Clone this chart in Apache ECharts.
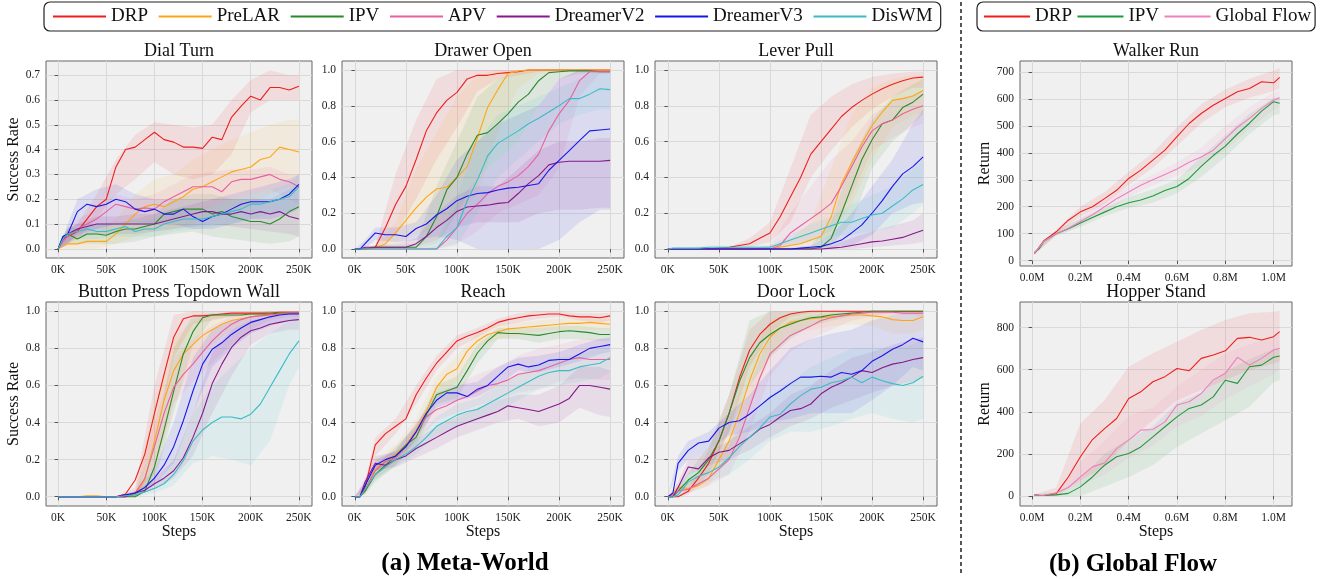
<!DOCTYPE html>
<html>
<head>
<meta charset="utf-8">
<title>DRP learning curves</title>
<script src="https://cdn.jsdelivr.net/npm/echarts@6/dist/echarts.min.js"></script>
<style>
  html, body { margin: 0; padding: 0; background: #fff; }
  #chart { width: 1326px; height: 579px; }
</style>
</head>
<body>
<div id="chart"></div>
<script>
// methods, in plotting order
const METHODS = ['DRP', 'PreLAR', 'IPV', 'APV', 'DreamerV2', 'DreamerV3', 'DisWM'];
const GF_METHODS = ['DRP', 'IPV', 'Global Flow'];

// x positions (thousands of steps for Meta-World, millions for Global Flow)
const STEPS_K = [0, 5, 10, 20, 30, 40, 50, 60, 70, 80, 90, 100, 110, 120, 130, 140, 150, 160, 170, 180, 190, 200, 210, 220, 230, 240, 250];
const BAND_STEPS_K = [0, 10, 20, 40, 60, 80, 100, 120, 140, 160, 180, 200, 220, 240, 250];
const GF_STEPS_M = [0.01, 0.03, 0.05, 0.1, 0.15, 0.2, 0.25, 0.3, 0.35, 0.4, 0.45, 0.5, 0.55, 0.6, 0.65, 0.7, 0.75, 0.8, 0.85, 0.9, 0.95, 1.0, 1.025];
const GF_BAND_STEPS_M = [0.01, 0.1, 0.2, 0.3, 0.4, 0.5, 0.6, 0.7, 0.8, 0.9, 1.0, 1.025];

// tick labels
const K_TICKS = [0, 50, 100, 150, 200, 250];
const M_TICKS = [0, 0.2, 0.4, 0.6, 0.8, 1.0];
const RATE_TICKS = [0, 0.2, 0.4, 0.6, 0.8, 1.0];
const DIAL_TICKS = [0, 0.1, 0.2, 0.3, 0.4, 0.5, 0.6, 0.7];
const WALKER_TICKS = [0, 100, 200, 300, 400, 500, 600, 700];
const HOPPER_TICKS = [0, 200, 400, 600, 800];

// ---- Dial Turn (rows follow METHODS) ----
const dialTurnMean = [
  [0, 0.04, 0.05, 0.07, 0.12, 0.17, 0.2, 0.33, 0.4, 0.41, 0.44, 0.47, 0.44, 0.43, 0.41, 0.41, 0.405, 0.45, 0.44, 0.53, 0.575, 0.615, 0.6, 0.65, 0.65, 0.64, 0.655],
  [0, 0.01, 0.02, 0.02, 0.03, 0.03, 0.03, 0.06, 0.1, 0.14, 0.17, 0.18, 0.17, 0.19, 0.21, 0.24, 0.25, 0.27, 0.29, 0.31, 0.32, 0.33, 0.36, 0.37, 0.41, 0.4, 0.39],
  [0, 0.05, 0.06, 0.04, 0.06, 0.06, 0.055, 0.07, 0.08, 0.08, 0.09, 0.1, 0.14, 0.15, 0.16, 0.16, 0.16, 0.14, 0.15, 0.13, 0.12, 0.11, 0.11, 0.1, 0.12, 0.15, 0.17],
  [0, 0.03, 0.05, 0.08, 0.1, 0.12, 0.15, 0.18, 0.17, 0.16, 0.165, 0.16, 0.19, 0.21, 0.23, 0.25, 0.25, 0.25, 0.23, 0.27, 0.28, 0.28, 0.29, 0.3, 0.28, 0.27, 0.25],
  [0, 0.04, 0.06, 0.08, 0.09, 0.1, 0.1, 0.1, 0.1, 0.1, 0.1, 0.1, 0.11, 0.12, 0.13, 0.14, 0.15, 0.15, 0.14, 0.14, 0.15, 0.14, 0.15, 0.14, 0.15, 0.13, 0.12],
  [0, 0.05, 0.06, 0.15, 0.18, 0.17, 0.18, 0.2, 0.19, 0.16, 0.15, 0.16, 0.14, 0.14, 0.16, 0.13, 0.11, 0.13, 0.14, 0.16, 0.18, 0.19, 0.19, 0.19, 0.2, 0.22, 0.26],
  [0, 0.04, 0.06, 0.07, 0.08, 0.07, 0.07, 0.08, 0.09, 0.07, 0.08, 0.08, 0.1, 0.11, 0.12, 0.12, 0.12, 0.13, 0.14, 0.15, 0.16, 0.18, 0.18, 0.19, 0.2, 0.21, 0.25]
];
const dialTurnLow = [
  [0, 0.02, 0.04, 0.12, 0.22, 0.28, 0.35, 0.3, 0.28, 0.3, 0.38, 0.55, 0.6, 0.6, 0.6],
  [0, 0, 0, 0, 0.02, 0.05, 0.07, 0.08, 0.1, 0.12, 0.15, 0.18, 0.22, 0.25, 0.25],
  [0, 0.02, 0.02, 0.02, 0.02, 0.03, 0.05, 0.06, 0.07, 0.05, 0.04, 0.03, 0.02, 0.03, 0.05],
  [0, 0.02, 0.05, 0.08, 0.1, 0.11, 0.1, 0.12, 0.15, 0.17, 0.2, 0.22, 0.24, 0.2, 0.18],
  [0, 0.03, 0.05, 0.06, 0.06, 0.06, 0.07, 0.08, 0.09, 0.1, 0.09, 0.08, 0.07, 0.06, 0.05],
  [0, 0.02, 0.06, 0.08, 0.1, 0.1, 0.1, 0.1, 0.08, 0.08, 0.1, 0.12, 0.12, 0.14, 0.16],
  [0, 0.03, 0.04, 0.04, 0.05, 0.05, 0.05, 0.07, 0.08, 0.09, 0.1, 0.12, 0.14, 0.15, 0.18]
];
const dialTurnHigh = [
  [0, 0.08, 0.1, 0.22, 0.36, 0.46, 0.51, 0.5, 0.49, 0.5, 0.6, 0.68, 0.72, 0.7, 0.7],
  [0, 0.04, 0.05, 0.07, 0.12, 0.22, 0.28, 0.3, 0.36, 0.4, 0.44, 0.47, 0.5, 0.52, 0.52],
  [0, 0.09, 0.08, 0.1, 0.1, 0.12, 0.14, 0.2, 0.22, 0.22, 0.2, 0.2, 0.2, 0.24, 0.26],
  [0, 0.08, 0.12, 0.16, 0.22, 0.2, 0.22, 0.26, 0.3, 0.31, 0.32, 0.32, 0.33, 0.3, 0.3],
  [0, 0.08, 0.1, 0.13, 0.13, 0.14, 0.14, 0.16, 0.18, 0.2, 0.2, 0.2, 0.2, 0.2, 0.2],
  [0, 0.1, 0.2, 0.24, 0.26, 0.22, 0.2, 0.2, 0.2, 0.2, 0.22, 0.24, 0.26, 0.28, 0.3],
  [0, 0.08, 0.1, 0.1, 0.11, 0.11, 0.12, 0.14, 0.16, 0.17, 0.2, 0.22, 0.24, 0.26, 0.3]
];

// ---- Drawer Open ----
const drawerOpenMean = [
  [0, 0, 0, 0.01, 0.12, 0.25, 0.35, 0.5, 0.66, 0.76, 0.83, 0.875, 0.95, 0.97, 0.97, 0.98, 0.985, 0.99, 1, 1, 1, 1, 1, 1, 1, 1, 1],
  [0, 0, 0, 0.005, 0.03, 0.09, 0.16, 0.23, 0.29, 0.335, 0.345, 0.4, 0.46, 0.62, 0.79, 0.89, 0.98, 0.995, 1, 1, 1, 1, 1, 1, 1, 1, 1],
  [0, 0, 0, 0.01, 0.01, 0.01, 0.01, 0.01, 0.07, 0.18, 0.33, 0.4, 0.53, 0.635, 0.65, 0.7, 0.755, 0.82, 0.865, 0.94, 0.985, 0.99, 0.995, 0.995, 0.995, 0.99, 0.99],
  [0, 0, 0, 0, 0, 0, 0, 0, 0, 0, 0.05, 0.12, 0.2, 0.25, 0.31, 0.35, 0.375, 0.41, 0.46, 0.53, 0.66, 0.755, 0.83, 0.94, 0.99, 0.99, 0.99],
  [0, 0, 0.01, 0.01, 0.01, 0.01, 0.01, 0.03, 0.07, 0.12, 0.16, 0.21, 0.235, 0.24, 0.245, 0.255, 0.26, 0.31, 0.365, 0.41, 0.47, 0.485, 0.49, 0.49, 0.49, 0.49, 0.495],
  [0, 0, 0.03, 0.09, 0.08, 0.08, 0.07, 0.115, 0.14, 0.19, 0.225, 0.27, 0.295, 0.31, 0.315, 0.33, 0.34, 0.345, 0.355, 0.365, 0.44, 0.495, 0.55, 0.605, 0.66, 0.665, 0.67],
  [0, 0, 0, 0, 0, 0, 0, 0, 0, 0, 0.07, 0.12, 0.27, 0.385, 0.52, 0.59, 0.625, 0.66, 0.7, 0.73, 0.765, 0.8, 0.84, 0.84, 0.865, 0.895, 0.89]
];
const drawerOpenLow = [
  [0, 0, 0, 0.08, 0.28, 0.5, 0.68, 0.88, 0.95, 0.97, 0.99, 1, 1, 1, 1],
  [0, 0, 0, 0.03, 0.08, 0.12, 0.2, 0.3, 0.65, 0.9, 0.98, 1, 1, 1, 1],
  [0, 0, 0, 0, 0, 0.03, 0.2, 0.4, 0.5, 0.6, 0.8, 0.95, 0.98, 0.98, 0.98],
  [0, 0, 0, 0, 0, 0, 0.03, 0.1, 0.2, 0.25, 0.3, 0.45, 0.85, 0.98, 0.98],
  [0, 0, 0, 0, 0.01, 0.05, 0.12, 0.15, 0.15, 0.15, 0.2, 0.22, 0.22, 0.23, 0.23],
  [0, 0, 0.05, 0.04, 0.05, 0.07, 0.05, 0, 0, 0, 0, 0.05, 0.15, 0.22, 0.22],
  [0, 0, 0, 0, 0, 0, 0.02, 0.2, 0.4, 0.5, 0.6, 0.7, 0.75, 0.78, 0.78]
];
const drawerOpenHigh = [
  [0, 0, 0.02, 0.42, 0.72, 0.95, 1, 1, 1, 1, 1, 1, 1, 1, 1],
  [0, 0, 0.02, 0.15, 0.45, 0.65, 0.85, 0.97, 1, 1, 1, 1, 1, 1, 1],
  [0, 0.01, 0.02, 0.02, 0.03, 0.35, 0.6, 0.85, 0.95, 0.99, 1, 1, 1, 1, 1],
  [0, 0, 0, 0, 0, 0.02, 0.25, 0.4, 0.5, 0.6, 0.8, 0.95, 1, 1, 1],
  [0, 0.01, 0.02, 0.03, 0.06, 0.2, 0.3, 0.35, 0.35, 0.45, 0.55, 0.6, 0.6, 0.62, 0.62],
  [0, 0.05, 0.12, 0.12, 0.15, 0.3, 0.5, 0.6, 0.7, 0.75, 0.8, 0.95, 1, 1, 1],
  [0, 0, 0, 0, 0, 0.05, 0.3, 0.6, 0.75, 0.8, 0.85, 0.9, 0.95, 1, 1]
];

// ---- Lever Pull ----
const leverPullMean = [
  [0, 0, 0, 0, 0, 0, 0.005, 0.01, 0.02, 0.03, 0.06, 0.09, 0.18, 0.29, 0.4, 0.53, 0.6, 0.67, 0.74, 0.79, 0.83, 0.865, 0.895, 0.92, 0.94, 0.955, 0.96],
  [0, 0, 0, 0, 0, 0, 0, 0, 0, 0, 0, 0, 0.01, 0.02, 0.03, 0.05, 0.07, 0.18, 0.365, 0.48, 0.59, 0.69, 0.765, 0.83, 0.84, 0.855, 0.885],
  [0, 0, 0, 0, 0, 0, 0, 0, 0, 0, 0, 0, 0, 0, 0, 0, 0.01, 0.06, 0.2, 0.35, 0.5, 0.61, 0.7, 0.72, 0.79, 0.82, 0.865],
  [0, 0, 0, 0, 0, 0, 0, 0, 0, 0, 0, 0, 0.02, 0.09, 0.13, 0.17, 0.21, 0.255, 0.35, 0.46, 0.57, 0.66, 0.7, 0.72, 0.755, 0.78, 0.8],
  [0, 0, 0, 0, 0, 0, 0, 0, 0, 0, 0, 0, 0, 0, 0, 0, 0, 0.005, 0.01, 0.02, 0.03, 0.04, 0.045, 0.055, 0.065, 0.085, 0.105],
  [0, 0, 0, 0, 0, 0, 0, 0, 0, 0, 0, 0, 0, 0, 0.005, 0.01, 0.015, 0.03, 0.05, 0.09, 0.135, 0.2, 0.27, 0.35, 0.42, 0.46, 0.515],
  [0, 0.005, 0.005, 0.005, 0.005, 0.01, 0.01, 0.01, 0.01, 0.01, 0.01, 0.01, 0.03, 0.05, 0.07, 0.09, 0.11, 0.13, 0.15, 0.15, 0.17, 0.19, 0.2, 0.24, 0.28, 0.33, 0.36]
];
const leverPullLow = [
  [0, 0, 0, 0, 0, 0.01, 0.04, 0.15, 0.4, 0.55, 0.68, 0.78, 0.85, 0.9, 0.9],
  [0, 0, 0, 0, 0, 0, 0, 0.01, 0.02, 0.08, 0.25, 0.5, 0.68, 0.75, 0.76],
  [0, 0, 0, 0, 0, 0, 0, 0, 0, 0.02, 0.15, 0.45, 0.6, 0.7, 0.75],
  [0, 0, 0, 0, 0, 0, 0, 0.02, 0.05, 0.1, 0.3, 0.55, 0.62, 0.68, 0.7],
  [0, 0, 0, 0, 0, 0, 0, 0, 0, 0, 0, 0.01, 0.02, 0.03, 0.04],
  [0, 0, 0, 0, 0, 0, 0, 0, 0, 0.01, 0.02, 0.08, 0.2, 0.25, 0.26],
  [0, 0, 0, 0, 0, 0, 0, 0.02, 0.04, 0.07, 0.08, 0.1, 0.12, 0.2, 0.25]
];
const leverPullHigh = [
  [0, 0, 0, 0, 0.01, 0.06, 0.15, 0.45, 0.75, 0.85, 0.92, 0.96, 0.98, 0.99, 0.99],
  [0, 0, 0, 0, 0, 0, 0.02, 0.05, 0.15, 0.45, 0.75, 0.9, 0.95, 0.97, 0.97],
  [0, 0, 0, 0, 0, 0, 0, 0, 0.02, 0.15, 0.5, 0.72, 0.85, 0.92, 0.95],
  [0, 0, 0, 0, 0, 0, 0.02, 0.2, 0.35, 0.5, 0.6, 0.75, 0.82, 0.86, 0.88],
  [0, 0, 0, 0, 0, 0, 0, 0, 0.01, 0.02, 0.06, 0.1, 0.13, 0.16, 0.2],
  [0, 0, 0, 0, 0, 0, 0, 0.01, 0.02, 0.08, 0.2, 0.35, 0.5, 0.7, 0.78],
  [0, 0.01, 0.01, 0.02, 0.02, 0.02, 0.02, 0.08, 0.14, 0.18, 0.25, 0.3, 0.35, 0.45, 0.5]
];

// ---- Button Press Topdown Wall ----
const buttonPressMean = [
  [0, 0, 0, 0, 0, 0, 0, 0, 0.015, 0.09, 0.23, 0.45, 0.66, 0.86, 0.96, 0.975, 0.975, 0.98, 0.985, 0.99, 0.99, 0.99, 0.99, 0.99, 0.995, 0.995, 0.995],
  [0, 0, 0, 0, 0.005, 0.005, 0, 0, 0, 0.01, 0.09, 0.3, 0.52, 0.68, 0.77, 0.82, 0.87, 0.9, 0.93, 0.95, 0.96, 0.97, 0.98, 0.985, 0.99, 0.99, 0.99],
  [0, 0, 0, 0, 0, 0, 0, 0, 0, 0, 0.03, 0.16, 0.36, 0.57, 0.77, 0.89, 0.965, 0.98, 0.98, 0.98, 0.98, 0.985, 0.985, 0.985, 0.99, 0.99, 0.99],
  [0, 0, 0, 0, 0, 0, 0, 0, 0, 0.02, 0.1, 0.27, 0.45, 0.59, 0.66, 0.715, 0.78, 0.84, 0.89, 0.93, 0.955, 0.97, 0.975, 0.98, 0.985, 0.99, 0.99],
  [0, 0, 0, 0, 0, 0, 0, 0, 0, 0.02, 0.035, 0.07, 0.1, 0.14, 0.21, 0.32, 0.45, 0.61, 0.715, 0.805, 0.86, 0.895, 0.91, 0.93, 0.94, 0.95, 0.955],
  [0, 0, 0, 0, 0, 0, 0, 0, 0.01, 0.02, 0.05, 0.1, 0.17, 0.27, 0.41, 0.57, 0.715, 0.795, 0.83, 0.875, 0.91, 0.94, 0.955, 0.97, 0.98, 0.985, 0.985],
  [0, 0, 0, 0, 0, 0, 0, 0, 0.005, 0.01, 0.025, 0.045, 0.07, 0.12, 0.195, 0.3, 0.36, 0.4, 0.43, 0.43, 0.42, 0.445, 0.5, 0.59, 0.68, 0.77, 0.84]
];
const buttonPressLow = [
  [0, 0, 0, 0, 0, 0, 0.3, 0.75, 0.93, 0.95, 0.97, 0.98, 0.98, 0.99, 0.99],
  [0, 0, 0, 0, 0, 0, 0.12, 0.5, 0.72, 0.82, 0.9, 0.94, 0.96, 0.98, 0.98],
  [0, 0, 0, 0, 0, 0, 0.08, 0.45, 0.82, 0.96, 0.97, 0.98, 0.98, 0.98, 0.98],
  [0, 0, 0, 0, 0, 0, 0.15, 0.5, 0.62, 0.72, 0.82, 0.9, 0.95, 0.97, 0.97],
  [0, 0, 0, 0, 0, 0.01, 0.04, 0.1, 0.22, 0.45, 0.65, 0.82, 0.88, 0.9, 0.9],
  [0, 0, 0, 0, 0, 0.01, 0.06, 0.18, 0.45, 0.7, 0.8, 0.88, 0.92, 0.95, 0.96],
  [0, 0, 0, 0, 0, 0, 0.02, 0.06, 0.18, 0.22, 0.2, 0.17, 0.3, 0.6, 0.7]
];
const buttonPressHigh = [
  [0, 0, 0, 0, 0, 0.05, 0.6, 0.98, 1, 1, 1, 1, 1, 1, 1],
  [0, 0, 0, 0, 0, 0.03, 0.5, 0.85, 0.95, 0.98, 0.99, 1, 1, 1, 1],
  [0, 0, 0, 0, 0, 0.02, 0.3, 0.8, 0.98, 0.99, 0.99, 0.99, 1, 1, 1],
  [0, 0, 0, 0, 0, 0.03, 0.4, 0.75, 0.85, 0.92, 0.97, 0.99, 1, 1, 1],
  [0, 0, 0, 0, 0, 0.03, 0.1, 0.2, 0.45, 0.78, 0.9, 0.95, 0.97, 0.98, 0.98],
  [0, 0, 0, 0, 0, 0.03, 0.15, 0.4, 0.75, 0.9, 0.95, 0.97, 0.99, 0.99, 0.99],
  [0, 0, 0, 0, 0, 0.02, 0.06, 0.2, 0.45, 0.6, 0.7, 0.8, 0.88, 0.95, 0.97]
];

// ---- Reach ----
const reachMean = [
  [0, 0, 0.05, 0.28, 0.34, 0.38, 0.42, 0.55, 0.64, 0.72, 0.78, 0.84, 0.865, 0.885, 0.91, 0.94, 0.955, 0.965, 0.975, 0.98, 0.985, 0.985, 0.975, 0.97, 0.97, 0.965, 0.975],
  [0, 0, 0.03, 0.15, 0.19, 0.23, 0.28, 0.36, 0.46, 0.59, 0.66, 0.69, 0.785, 0.84, 0.875, 0.89, 0.905, 0.91, 0.915, 0.92, 0.925, 0.93, 0.935, 0.935, 0.94, 0.935, 0.93],
  [0, 0, 0.03, 0.12, 0.17, 0.22, 0.28, 0.32, 0.44, 0.55, 0.57, 0.59, 0.68, 0.775, 0.84, 0.885, 0.88, 0.88, 0.875, 0.87, 0.88, 0.89, 0.895, 0.89, 0.885, 0.875, 0.875],
  [0, 0, 0.04, 0.14, 0.19, 0.21, 0.27, 0.35, 0.43, 0.47, 0.49, 0.52, 0.54, 0.57, 0.6, 0.61, 0.63, 0.66, 0.67, 0.68, 0.7, 0.72, 0.74, 0.75, 0.74, 0.74, 0.74],
  [0, 0, 0.08, 0.18, 0.17, 0.2, 0.22, 0.26, 0.29, 0.32, 0.35, 0.38, 0.4, 0.42, 0.44, 0.46, 0.49, 0.48, 0.47, 0.46, 0.48, 0.5, 0.53, 0.6, 0.6, 0.59, 0.58],
  [0, 0, 0.06, 0.17, 0.2, 0.22, 0.27, 0.35, 0.45, 0.52, 0.56, 0.56, 0.54, 0.58, 0.6, 0.65, 0.7, 0.715, 0.7, 0.71, 0.735, 0.74, 0.74, 0.77, 0.8, 0.81, 0.82],
  [0, 0, 0.04, 0.12, 0.16, 0.2, 0.23, 0.27, 0.32, 0.38, 0.41, 0.44, 0.46, 0.47, 0.5, 0.53, 0.56, 0.59, 0.62, 0.65, 0.67, 0.68, 0.68, 0.7, 0.71, 0.72, 0.75]
];
const reachLow = [
  [0, 0.03, 0.22, 0.34, 0.5, 0.68, 0.8, 0.86, 0.92, 0.94, 0.96, 0.97, 0.95, 0.94, 0.95],
  [0, 0.01, 0.1, 0.18, 0.3, 0.52, 0.62, 0.8, 0.85, 0.87, 0.89, 0.9, 0.9, 0.9, 0.9],
  [0, 0.01, 0.08, 0.17, 0.27, 0.5, 0.53, 0.72, 0.85, 0.85, 0.83, 0.85, 0.85, 0.84, 0.84],
  [0, 0.02, 0.1, 0.17, 0.3, 0.41, 0.45, 0.49, 0.52, 0.56, 0.58, 0.62, 0.64, 0.63, 0.63],
  [0, 0.05, 0.14, 0.16, 0.21, 0.26, 0.32, 0.36, 0.4, 0.42, 0.38, 0.4, 0.48, 0.44, 0.43],
  [0, 0.04, 0.14, 0.19, 0.31, 0.48, 0.52, 0.54, 0.6, 0.68, 0.67, 0.7, 0.73, 0.77, 0.78],
  [0, 0.02, 0.09, 0.16, 0.23, 0.33, 0.38, 0.41, 0.46, 0.52, 0.58, 0.6, 0.62, 0.64, 0.67]
];
const reachHigh = [
  [0, 0.08, 0.32, 0.42, 0.6, 0.76, 0.87, 0.91, 0.96, 0.99, 1, 1, 0.99, 0.99, 0.99],
  [0, 0.05, 0.2, 0.28, 0.42, 0.65, 0.76, 0.88, 0.93, 0.94, 0.95, 0.96, 0.96, 0.96, 0.96],
  [0, 0.05, 0.17, 0.27, 0.38, 0.6, 0.65, 0.82, 0.91, 0.91, 0.91, 0.92, 0.92, 0.91, 0.91],
  [0, 0.06, 0.18, 0.25, 0.4, 0.53, 0.6, 0.66, 0.7, 0.76, 0.8, 0.82, 0.85, 0.85, 0.85],
  [0, 0.1, 0.22, 0.24, 0.31, 0.38, 0.43, 0.48, 0.52, 0.55, 0.55, 0.6, 0.7, 0.7, 0.68],
  [0, 0.08, 0.2, 0.25, 0.39, 0.56, 0.6, 0.62, 0.7, 0.75, 0.76, 0.78, 0.82, 0.85, 0.86],
  [0, 0.06, 0.15, 0.24, 0.31, 0.43, 0.5, 0.53, 0.6, 0.66, 0.72, 0.75, 0.77, 0.8, 0.82]
];

// ---- Door Lock ----
const doorLockMean = [
  [0, 0, 0, 0.03, 0.1, 0.18, 0.3, 0.45, 0.64, 0.79, 0.875, 0.93, 0.965, 0.985, 0.995, 1, 1, 1, 1, 1, 1, 1, 1, 1, 1, 1, 1],
  [0, 0.02, 0.05, 0.045, 0.06, 0.1, 0.2, 0.3, 0.45, 0.625, 0.77, 0.86, 0.91, 0.94, 0.95, 0.96, 0.965, 0.97, 0.975, 0.98, 0.98, 0.975, 0.97, 0.955, 0.95, 0.95, 0.97],
  [0, 0, 0.03, 0.09, 0.13, 0.2, 0.3, 0.45, 0.62, 0.75, 0.83, 0.875, 0.91, 0.93, 0.95, 0.965, 0.97, 0.98, 0.985, 0.99, 0.995, 1, 1, 1, 1, 1, 1],
  [0, 0.01, 0.03, 0.04, 0.07, 0.1, 0.15, 0.2, 0.32, 0.48, 0.64, 0.77, 0.82, 0.87, 0.895, 0.92, 0.95, 0.965, 0.975, 0.985, 0.99, 0.995, 0.995, 0.995, 0.99, 0.99, 0.99],
  [0, 0, 0.05, 0.16, 0.15, 0.21, 0.24, 0.25, 0.285, 0.32, 0.365, 0.39, 0.43, 0.465, 0.475, 0.5, 0.555, 0.59, 0.615, 0.645, 0.68, 0.67, 0.695, 0.715, 0.725, 0.74, 0.75],
  [0, 0.02, 0.18, 0.25, 0.29, 0.3, 0.37, 0.4, 0.41, 0.445, 0.49, 0.535, 0.57, 0.61, 0.645, 0.645, 0.65, 0.645, 0.67, 0.66, 0.68, 0.73, 0.76, 0.795, 0.82, 0.855, 0.835],
  [0, 0, 0.01, 0.08, 0.11, 0.13, 0.16, 0.21, 0.27, 0.32, 0.37, 0.43, 0.445, 0.5, 0.545, 0.58, 0.59, 0.615, 0.625, 0.645, 0.615, 0.645, 0.625, 0.61, 0.6, 0.615, 0.65]
];
const doorLockLow = [
  [0, 0, 0.01, 0.12, 0.35, 0.7, 0.88, 0.97, 0.99, 1, 1, 1, 1, 1, 1],
  [0, 0.03, 0.02, 0.06, 0.2, 0.48, 0.75, 0.88, 0.9, 0.92, 0.93, 0.92, 0.88, 0.88, 0.9],
  [0, 0.01, 0.06, 0.14, 0.35, 0.6, 0.75, 0.85, 0.92, 0.95, 0.97, 0.98, 0.99, 0.99, 0.99],
  [0, 0.01, 0.02, 0.06, 0.12, 0.35, 0.65, 0.78, 0.85, 0.9, 0.95, 0.97, 0.98, 0.98, 0.97],
  [0, 0.02, 0.12, 0.17, 0.2, 0.25, 0.32, 0.38, 0.42, 0.48, 0.52, 0.56, 0.6, 0.62, 0.64],
  [0, 0.14, 0.2, 0.25, 0.33, 0.35, 0.4, 0.42, 0.45, 0.45, 0.45, 0.52, 0.6, 0.7, 0.68],
  [0, 0, 0.04, 0.08, 0.12, 0.2, 0.3, 0.35, 0.35, 0.38, 0.42, 0.45, 0.42, 0.4, 0.42]
];
const doorLockHigh = [
  [0, 0, 0.05, 0.25, 0.55, 0.9, 1, 1, 1, 1, 1, 1, 1, 1, 1],
  [0, 0.07, 0.07, 0.14, 0.4, 0.75, 0.95, 0.99, 1, 1, 1, 1, 1, 1, 1],
  [0, 0.05, 0.13, 0.27, 0.55, 0.95, 1, 1, 1, 1, 1, 1, 1, 1, 1],
  [0, 0.05, 0.07, 0.15, 0.28, 0.6, 0.88, 0.95, 0.98, 0.99, 1, 1, 1, 1, 1],
  [0, 0.08, 0.2, 0.25, 0.3, 0.38, 0.45, 0.55, 0.6, 0.68, 0.75, 0.78, 0.82, 0.85, 0.86],
  [0, 0.22, 0.3, 0.35, 0.45, 0.55, 0.68, 0.8, 0.85, 0.88, 0.9, 0.95, 0.98, 0.99, 0.99],
  [0, 0.03, 0.12, 0.2, 0.3, 0.42, 0.55, 0.62, 0.7, 0.75, 0.8, 0.8, 0.8, 0.82, 0.85]
];

// ---- Walker Run (rows follow GF_METHODS) ----
const walkerRunMean = [
  [26, 51, 75, 107, 150, 181, 200, 230, 261, 305, 336, 373, 410, 460, 509, 546, 577, 602, 627, 639, 664, 660, 680],
  [30, 45, 72, 100, 118, 140, 160, 180, 200, 215, 225, 240, 260, 275, 305, 350, 390, 425, 470, 510, 555, 590, 584],
  [28, 50, 72, 100, 120, 145, 170, 200, 230, 255, 280, 300, 320, 340, 365, 385, 410, 453, 495, 528, 565, 596, 605]
];
const walkerRunLow = [
  [22, 98, 165, 210, 280, 345, 425, 510, 570, 605, 630, 640],
  [25, 92, 125, 165, 195, 215, 250, 310, 385, 470, 540, 545],
  [24, 92, 130, 180, 235, 280, 315, 350, 410, 490, 560, 570]
];
const walkerRunHigh = [
  [30, 115, 200, 255, 330, 400, 495, 580, 635, 675, 705, 715],
  [35, 110, 155, 195, 235, 265, 300, 385, 465, 545, 605, 605],
  [32, 110, 160, 220, 275, 320, 365, 420, 500, 570, 625, 630]
];

// ---- Hopper Stand ----
const hopperStandMean = [
  [5, 2, 3, 11, 90, 186, 268, 320, 368, 463, 495, 543, 567, 606, 595, 654, 670, 690, 749, 754, 741, 757, 781],
  [5, 3, 2, 5, 12, 43, 90, 146, 186, 202, 233, 281, 329, 376, 416, 432, 471, 550, 535, 614, 622, 659, 665],
  [5, 3, 3, 15, 40, 90, 138, 157, 225, 265, 313, 316, 352, 432, 448, 487, 551, 583, 659, 622, 654, 694, 702]
];
const hopperStandLow = [
  [0, 0, 75, 138, 265, 360, 455, 503, 551, 598, 630, 640],
  [0, 0, 0, 43, 90, 146, 233, 297, 360, 424, 540, 550],
  [0, 5, 50, 100, 180, 240, 330, 380, 460, 520, 580, 600]
];
const hopperStandHigh = [
  [8, 40, 345, 455, 614, 678, 733, 789, 836, 868, 876, 880],
  [8, 12, 80, 200, 270, 330, 440, 490, 590, 650, 700, 705],
  [8, 20, 160, 260, 380, 420, 520, 600, 680, 720, 760, 770]
];

const META_COLORS = ['#f01d1d', '#ffa514', '#2a8a2a', '#e8609f', '#87188a', '#1616e8', '#3abcc6'];
const GF_COLORS = ['#f01d1d', '#1e9a3a', '#ee80c0'];
const FONT = '"Liberation Serif", "Times New Roman", serif';

const kFmt = v => Math.round(v) + 'K';
const mFmt = v => v.toFixed(1) + 'M';
const rFmt = v => v.toFixed(1);
const iFmt = v => String(Math.round(v));

const meta = { methods: METHODS, colors: META_COLORS, xs: STEPS_K, bxs: BAND_STEPS_K,
  xRange: [-12.6, 263.6], xTicks: K_TICKS, xFmt: kFmt, yRange: [-0.05, 1.05], yTicks: RATE_TICKS, yFmt: rFmt };
const flow = { methods: GF_METHODS, colors: GF_COLORS, xs: GF_STEPS_M, bxs: GF_BAND_STEPS_M,
  xRange: [-0.05, 1.076], xTicks: M_TICKS, xFmt: mFmt, yFmt: iFmt };

const PANELS = [
  Object.assign({}, meta, { title: 'Dial Turn', mean: dialTurnMean, low: dialTurnLow, high: dialTurnHigh,
    box: [46, 61, 266, 197], yRange: [-0.037, 0.757], yTicks: DIAL_TICKS, yName: 'Success Rate' }),
  Object.assign({}, meta, { title: 'Drawer Open', mean: drawerOpenMean, low: drawerOpenLow, high: drawerOpenHigh,
    box: [342, 61, 282, 197] }),
  Object.assign({}, meta, { title: 'Lever Pull', mean: leverPullMean, low: leverPullLow, high: leverPullHigh,
    box: [655, 61, 282, 197] }),
  Object.assign({}, flow, { title: 'Walker Run', mean: walkerRunMean, low: walkerRunLow, high: walkerRunHigh,
    box: [1020, 61, 272, 205], yRange: [-20, 741], yTicks: WALKER_TICKS, yName: 'Return' }),
  Object.assign({}, meta, { title: 'Button Press Topdown Wall', mean: buttonPressMean, low: buttonPressLow, high: buttonPressHigh,
    box: [46, 302, 266, 204], yName: 'Success Rate', xName: true }),
  Object.assign({}, meta, { title: 'Reach', mean: reachMean, low: reachLow, high: reachHigh,
    box: [342, 302, 282, 204], xName: true }),
  Object.assign({}, meta, { title: 'Door Lock', mean: doorLockMean, low: doorLockLow, high: doorLockHigh,
    box: [655, 302, 282, 204], xName: true }),
  Object.assign({}, flow, { title: 'Hopper Stand', mean: hopperStandMean, low: hopperStandLow, high: hopperStandHigh,
    box: [1020, 302, 272, 204], yRange: [-48, 922], yTicks: HOPPER_TICKS, yName: 'Return', xName: true })
];

function valueAxis(i, range, ticks, fmt) {
  return {
    type: 'value', gridIndex: i, min: range[0], max: range[1],
    axisLine: { show: false },
    axisTick: { show: true, inside: false, length: 3.5, customValues: ticks, lineStyle: { color: '#555', width: 1 } },
    axisLabel: { customValues: ticks, formatter: fmt, margin: 6, color: '#222', fontFamily: FONT, fontSize: 11.5 },
    splitLine: { show: true, lineStyle: { color: '#d9d9d9', width: 1 } }
  };
}

// shaded spread drawn as one polygon through the axis scales
function bandSeries(i, xs, lo, hi, color) {
  return {
    type: 'custom', xAxisIndex: i, yAxisIndex: i, silent: true, z: 1,
    data: [[xs[0], lo[0]]],
    renderItem: function (params, api) {
      const pts = [];
      for (let k = 0; k < xs.length; k++) pts.push(api.coord([xs[k], hi[k]]));
      for (let k = xs.length - 1; k >= 0; k--) pts.push(api.coord([xs[k], lo[k]]));
      return { type: 'polygon', shape: { points: pts }, style: { fill: color, opacity: 0.095 } };
    }
  };
}

const grid = [], xAxis = [], yAxis = [], series = [], graphic = [];
PANELS.forEach((p, i) => {
  const [left, top, width, height] = p.box;
  grid.push({ left, top, width, height, show: true, backgroundColor: '#f0f0f0',
    borderColor: '#666', borderWidth: 1, outerBoundsMode: 'none' });
  xAxis.push(valueAxis(i, p.xRange, p.xTicks, p.xFmt));
  yAxis.push(valueAxis(i, p.yRange, p.yTicks, p.yFmt));
  p.methods.forEach((m, j) => series.push(bandSeries(i, p.bxs, p.low[j], p.high[j], p.colors[j])));
  p.methods.forEach((m, j) => series.push({
    type: 'line', name: m, xAxisIndex: i, yAxisIndex: i, z: 2,
    data: p.xs.map((x, k) => [x, p.mean[j][k]]),
    showSymbol: false, symbol: 'none', silent: true,
    lineStyle: { width: 1.1, color: p.colors[j] }, itemStyle: { color: p.colors[j] }
  }));

  const cx = left + width / 2;
  graphic.push({ type: 'text', x: cx, y: top - 10,
    style: { text: p.title, font: '18px ' + FONT, fill: '#111', textAlign: 'center', textVerticalAlign: 'middle' } });
  if (p.yName) {
    graphic.push({ type: 'text', x: left < 500 ? 14 : 985, y: top + height / 2, rotation: Math.PI / 2,
      style: { text: p.yName, font: '16px ' + FONT, fill: '#111', textAlign: 'center', textVerticalAlign: 'middle' } });
  }
  if (p.xName) {
    graphic.push({ type: 'text', x: cx, y: 532,
      style: { text: 'Steps', font: '16px ' + FONT, fill: '#111', textAlign: 'center', textVerticalAlign: 'middle' } });
  }
});

graphic.push(
  { type: 'text', x: 465, y: 564, style: { text: '(a) Meta-World', font: 'bold 25px ' + FONT, fill: '#000', textAlign: 'center', textVerticalAlign: 'middle' } },
  { type: 'text', x: 1133, y: 565, style: { text: '(b) Global Flow', font: 'bold 25px ' + FONT, fill: '#000', textAlign: 'center', textVerticalAlign: 'middle' } },
  { type: 'line', shape: { x1: 961, y1: 2, x2: 961, y2: 575 }, style: { stroke: '#111', lineWidth: 1.4, lineDash: [4, 3] } }
);

const legendBase = {
  top: 2, orient: 'horizontal', icon: 'rect', itemHeight: 2, selectedMode: false,
  borderColor: '#222', borderWidth: 1.2, borderRadius: 6, backgroundColor: '#fff',
  textStyle: { fontFamily: FONT, fontSize: 19, color: '#111' }
};

const chart = echarts.init(document.getElementById('chart'), null, { renderer: 'canvas' });
chart.setOption({
  animation: false,
  backgroundColor: '#fff',
  legend: [
    Object.assign({}, legendBase, { left: 44, itemWidth: 53, itemGap: 10.7, padding: [5, 8, 5, 9],
      data: METHODS.map((m, j) => ({ name: m, itemStyle: { color: META_COLORS[j] } })) }),
    Object.assign({}, legendBase, { left: 977, itemWidth: 46, itemGap: 5.5, padding: [5, 4, 5, 7],
      data: GF_METHODS.map((m, j) => ({ name: m, itemStyle: { color: GF_COLORS[j] } })) })
  ],
  grid, xAxis, yAxis, series, graphic
});
</script>
</body>
</html>
